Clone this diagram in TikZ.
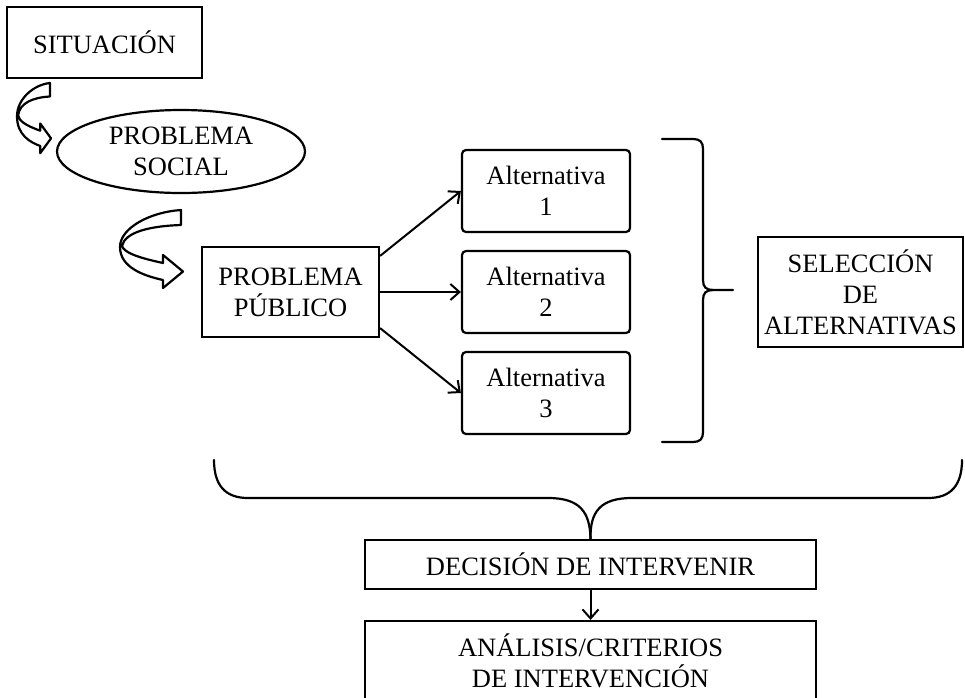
\documentclass[tikz,border=0pt]{standalone}
\usepackage{fontspec}
\setmainfont{Liberation Serif}
\usetikzlibrary{shapes.geometric,arrows.meta}
\newcommand\myfs{\fontsize{26.5}{31}\selectfont}
\def\curvpath{(61,0) .. controls (30,2) and (0,18) .. (0,37) .. controls (0,58) and (25,66) .. (43,70) -- (43,78) -- (63,61.5) -- (43,45) -- (43,53) .. controls (15,47) and (4,42) .. (2,36) .. controls (5,22) and (30,16) .. (61,15) -- cycle}
\tikzset{
  base/.style={draw, line width=2.2pt, align=center, inner sep=0pt, font=\myfs},
  sqbox/.style={base, rectangle},
  rbox/.style={base, rectangle, rounded corners=4pt, minimum width=168pt, minimum height=82pt},
  oval/.style={base, ellipse},
  conn/.style={line width=2pt, -{Straight Barb[length=9pt,width=16pt,line width=2pt]}},
  bracepath/.style={line width=2.2pt, line cap=round},
  curv/.style={draw, line width=2.2pt, fill=white, line join=round}
}
\begin{document}
\begin{tikzpicture}[x=1pt,y=-1pt]
\useasboundingbox (0,0) rectangle (965,697);
\clip (0,0) rectangle (965,697);
\fill[white] (0,0) rectangle (965,697);

\node[sqbox, minimum width=195pt, minimum height=71pt] (sit) at (104.5,42.5) {SITUACIÓN};
\node[oval, minimum width=248pt, minimum height=83pt] (ps) at (181,151.5) {PROBLEMA\\SOCIAL};
\node[sqbox, minimum width=177pt, minimum height=90pt] (pp) at (290.5,292) {PROBLEMA\\PÚBLICO};

\node[rbox] (a1) at (546,191) {Alternativa\\1};
\node[rbox] (a2) at (546,292) {Alternativa\\2};
\node[rbox] (a3) at (546,393) {Alternativa\\3};

\node[sqbox, minimum width=205pt, minimum height=110pt] (sel) at (860.5,292) {SELECCIÓN\\DE\\ALTERNATIVAS};

\node[sqbox, minimum width=451pt, minimum height=49pt] (dec) at (590.5,564.5) {DECISIÓN DE INTERVENIR};
\node[sqbox, minimum width=451pt, minimum height=79pt] (ana) at (590.5,660.5) {ANÁLISIS/CRITERIOS\\DE INTERVENCIÓN};

% connectors
\draw[conn] ([yshift=-10pt]pp.north east) -- (a1.west);
\draw[conn] (pp.east) -- (a2.west);
\draw[conn] ([yshift=10pt]pp.south east) -- (a3.west);
\draw[conn] (dec.south) -- (ana.north);

% curved block arrows
\begin{scope}[shift={(17,83)}, xscale=0.54, yscale=0.9]
  \path[curv] \curvpath;
\end{scope}
\begin{scope}[shift={(120,210)}]
  \path[curv] \curvpath;
\end{scope}

% right brace
\coordinate (rbtip) at (733,290);
\draw[bracepath] (662,139) -- (693,139) .. controls (700,139) and (703,142) .. (703,149)
  -- (703,280) .. controls (703,287) and (706,290) .. (713,290) -- (rbtip);
\draw[bracepath] (713,290) .. controls (706,290) and (703,293) .. (703,300)
  -- (703,432) .. controls (703,439) and (700,442) .. (693,442) -- (662,442);

% bottom brace
\draw[bracepath] (214,460) .. controls (214,485) and (225,498) .. (248,498) -- (548,498)
  .. controls (580,498) and (590,512) .. (dec.north);
\draw[bracepath] (dec.north) .. controls (590,512) and (600,498) .. (632,498) -- (928,498)
  .. controls (951,498) and (962,485) .. (962,460);
\end{tikzpicture}
\end{document}
